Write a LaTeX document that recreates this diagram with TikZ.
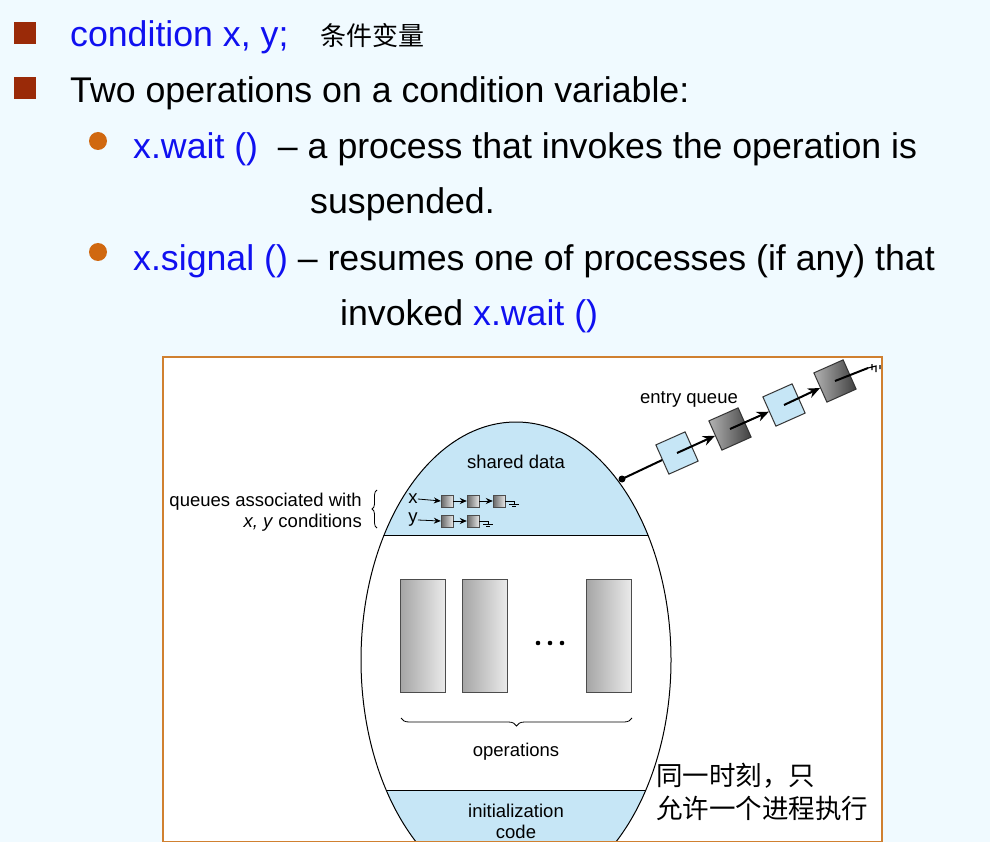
\documentclass[tikz,border=0pt]{standalone}
\usepackage{fontspec}
\setmainfont{Liberation Sans}
\newfontfamily\cjk{Noto Sans CJK SC}
\usetikzlibrary{positioning}
\usetikzlibrary{calc}
\usetikzlibrary{arrows.meta}
\usetikzlibrary{decorations.pathreplacing}
\definecolor{slidebg}{HTML}{F0FAFF}
\definecolor{kwblue}{HTML}{1010F0}
\definecolor{bulbrown}{HTML}{9A2A08}
\definecolor{dotorange}{HTML}{D06810}
\definecolor{pale}{HTML}{C6E6F6}
\definecolor{frameor}{HTML}{D08030}
\tikzset{
	big/.style={font=\fontsize{35.7}{40}\selectfont,anchor=base west,inner sep=0pt},
	lbl/.style={font=\fontsize{18.5}{21}\selectfont,inner sep=0pt},
	opbox/.style={draw=black!70,line width=0.8pt,left color=black!35,right color=black!8,minimum width=45pt,minimum height=113pt,inner sep=0pt},
	qlight/.style={draw=black!80,line width=1pt,fill=pale,minimum size=32pt,rotate=24,inner sep=0pt},
	qdark/.style={draw=black!80,line width=1pt,left color=black!30,right color=black!75,minimum size=32pt,rotate=24,inner sep=0pt},
	sbox/.style={draw=black!70,left color=black!60,right color=black!10,minimum size=12pt,inner sep=0pt},
}
\begin{document}
\begin{tikzpicture}[x=1pt,y=-1pt,>=Stealth]
	\fill[slidebg] (0,0) rectangle (990,842);
	\useasboundingbox (0,0) rectangle (990,842);
	
	% text on the slide
	\fill[bulbrown] (14,22) rectangle (36,44);
	\fill[bulbrown] (14,77) rectangle (36,99);
	\fill[dotorange] (98,141) circle (9);
	\fill[dotorange] (98,252) circle (9);
	\node[big,text=kwblue] (cond) at (70,47) {condition x, y;};
	\node[lbl,anchor=base west,font=\cjk\fontsize{26}{28}\selectfont] (cjk1) at (320,46) {条件变量};
	\node[big] (twoops) at (70,103) {Two operations on a condition variable:};
	\node[big] (waitl) at (133,159) {\textcolor{kwblue}{x.wait ()}\ \ – a process that invokes the operation is};
	\node[big] (waitl2) at (310,214) {suspended.};
	\node[big] (sigl) at (133,270) {\textcolor{kwblue}{x.signal ()} – resumes one of processes (if any) that};
	\node[big] (sigl2) at (340,325) {invoked \textcolor{kwblue}{x.wait ()}};
	
	% monitor picture
	\fill[white] (163,357) rectangle (882,842);
	\begin{scope}
		\clip (163,357) rectangle (882,842);
		\begin{scope}
			\clip (516,660) ellipse (155 and 238);
			\fill[pale] (300,400) rectangle (700,535);
			\fill[pale] (300,790) rectangle (700,900);
			\draw[line width=1pt] (300,535) -- (700,535);
			\draw[line width=1pt] (300,790) -- (700,790);
		\end{scope}
		\draw[line width=1pt] (516,660) ellipse (155 and 238);
	\end{scope}
	\draw[frameor,line width=1.5pt] (163,357) rectangle (882,842);
	
	\node[lbl] (shared) at (516,462) {shared data};
	\node[opbox] (op1) at (423,636) {};
	\node[opbox] (op2) at (485,636) {};
	\node[opbox] (op3) at (609,636) {};
	\foreach \d in {-12,0,12}
		\fill (550+\d,643) circle (2.3);
	\draw[decorate,decoration={brace,amplitude=8pt,mirror},line width=0.8pt] (401,718) -- (632,718);
	\node[lbl] (opname) at (516,752) {operations};
	\node[lbl,align=center] (init) at (516,821) {initialization\\code};
	
	% condition queues
	\node[lbl,align=right,anchor=east] (qassoc) at (362,512) {queues associated with\\\textit{x, y} conditions};
	\draw[decorate,decoration={brace,amplitude=5pt},line width=0.8pt] (377,528) -- (377,490);
	\node[lbl] (xq) at (413,499) {x};
	\node[lbl] (yq) at (413,520) {y};
	\node[sbox] (x1) at (447,501) {};
	\node[sbox] (x2) at (473,501) {};
	\node[sbox] (x3) at (499,501) {};
	\node[sbox] (y1) at (447,521) {};
	\node[sbox] (y2) at (473,521) {};
	\foreach \a/\b in {xq/x1,x1/x2,x2/x3,yq/y1,y1/y2}
		\draw[-{Stealth[length=7pt,width=6pt]},line width=0.8pt] (\a.east) -- (\b.west);
	\foreach \e in {x3,y2}
		\draw[line width=0.6pt] (\e.east) -- ++(9,0) -- ++(0,3) ++(-5,0) -- ++(10,0) ++(-7,2.5) -- ++(4,0);
	
	% entry queue
	\coordinate (door) at (622,479);
	\node[qlight] (e1) at (677,453) {};
	\node[qdark]  (e2) at (730,429) {};
	\node[qlight] (e3) at (784,405) {};
	\node[qdark]  (e4) at (835,381) {};
	\draw[line width=2pt] (door) -- (e1);
	\foreach \a/\b in {e1/e2,e2/e3,e3/e4}
		\draw[-{Stealth[length=12pt,width=10pt]},line width=2pt] (\a.center) -- (\b);
	\draw[line width=2pt] (e4.center) -- (868,368);
	\draw[line width=1.2pt] (868,368) -- (876,366) -- ++(0,6) ++(-4,-8) -- ++(0,6) ++(8,-5) -- ++(0,4);
	\fill (door) circle (3.5);
	\node[lbl] (entry) at (689,399) {entry queue};
	
	\node[anchor=north west,align=left,font=\cjk\fontsize{26.5}{33}\selectfont,inner sep=0pt] (note) at (656,763) {同一时刻，只\\允许一个进程执行};
\end{tikzpicture}
\end{document}
